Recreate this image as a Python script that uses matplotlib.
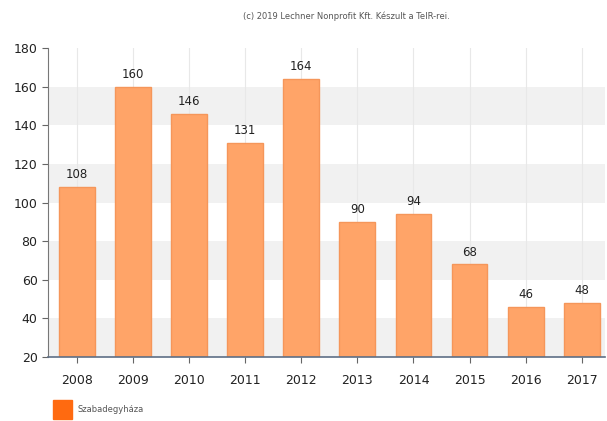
import matplotlib.pyplot as plt
import matplotlib.patches as mpatches
import numpy as np

# Adatok
years = ['2008', '2009', '2010', '2011', '2012', '2013', '2014', '2015', '2016', '2017']
values = [108, 160, 146, 131, 164, 90, 94, 68, 46, 48]
y_ticks = [20, 40, 60, 80, 100, 120, 140, 160, 180]

fig = plt.figure(figsize=(6.07, 4.21), dpi=100)
ax = fig.add_axes([0.079, 0.152, 0.918, 0.734])

x = np.arange(len(years))

# Sávos háttér
for lo in [20, 60, 100, 140]:
    ax.axhspan(lo, lo + 20, color='#f1f1f1', zorder=0, lw=0)
for xi in x:
    ax.axvline(xi, color='#e8e8e8', lw=0.8, zorder=0.5)

bars = ax.bar(x, values, width=0.64, color='#ffa468', edgecolor='#f5965a',
              linewidth=1, zorder=2)
for xi, v in zip(x, values):
    ax.text(xi, v + 3, str(v), ha='center', va='bottom', fontsize=8.5, color='#222222')

ax.set_xlim(-0.52, 9.42)
ax.set_ylim(20, 180)
ax.set_xticks(x)
ax.set_xticklabels(years, fontsize=9, color='#222222')
ax.set_yticks(y_ticks)
ax.set_yticklabels([str(t) for t in y_ticks], fontsize=9, color='#222222')

for side in ['top', 'right']:
    ax.spines[side].set_visible(False)
ax.spines['left'].set_color('#777777')
ax.spines['bottom'].set_color('#5e6f86')
ax.spines['bottom'].set_linewidth(1.2)
ax.tick_params(axis='both', colors='#666666', length=4, width=0.8, labelcolor='#222222')
ax.tick_params(axis='x', pad=8)

fig.text(0.57, 0.962, '(c) 2019 Lechner Nonprofit Kft. Készult a TeIR-rei.',
         ha='center', va='center', fontsize=6, color='#555555')

# Jelmagyarázat
fig.patches.append(mpatches.Rectangle((0.088, 0.005), 0.03, 0.045, transform=fig.transFigure,
                                      color='#ff6a10', figure=fig))
fig.text(0.128, 0.028, 'Szabadegyháza', ha='left', va='center', fontsize=6, color='#555555')

fig.savefig('out.png', dpi=100)
